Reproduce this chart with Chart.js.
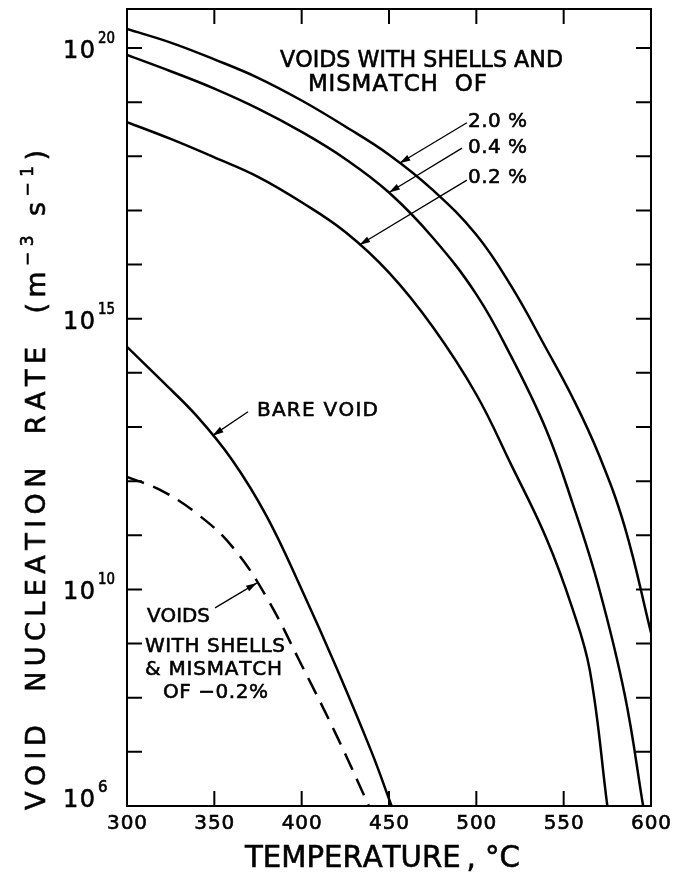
<!DOCTYPE html>
<html>
<head>
<meta charset="utf-8">
<script src="https://cdn.jsdelivr.net/npm/chart.js@4.4.1/dist/chart.umd.min.js"></script>
<style>
  body { margin: 0; background: #fff; }
  canvas { display: block; }
</style>
</head>
<body>
<canvas id="nucleationChart" width="673" height="880"></canvas>
<script>
// values: temperature (deg C) and log10 of the rate
const tempShell20 = [300, 325, 350, 375, 400, 425, 450, 475, 500, 520, 540, 555, 570, 585, 600];
const expShell20 = [20.35, 20.1, 19.79, 19.45, 19.03, 18.55, 18.03, 17.38, 16.55, 15.6, 14.45, 13.55, 12.5, 11.15, 9.2];

const tempShell04 = [300, 325, 350, 375, 400, 425, 450, 475, 500, 520, 540, 555, 570, 585, 595.5];
const expShell04 = [19.87, 19.57, 19.25, 18.88, 18.45, 17.95, 17.33, 16.5, 15.45, 14.3, 12.95, 11.6, 10.05, 8.05, 6.0];

const tempShell02 = [300, 325, 350, 375, 400, 425, 450, 475, 500, 520, 540, 555, 565, 575];
const expShell02 = [18.63, 18.32, 17.98, 17.62, 17.15, 16.6, 15.85, 14.85, 13.6, 12.3, 10.95, 9.65, 8.5, 6.0];

const tempBare = [300, 320, 340, 360, 380, 400, 420, 440, 451.5];
const expBare = [14.48, 13.85, 13.2, 12.4, 11.35, 10.0, 8.55, 7.0, 6.0];

const tempNeg02 = [300, 320, 340, 360, 380, 400, 420, 438.5];
const expNeg02 = [12.08, 11.82, 11.4, 10.8, 9.85, 8.6, 7.3, 6.0];

const xTicks = [300, 350, 400, 450, 500, 550, 600];
const yLabelExps = [6, 10, 15, 20];
const yMinExp = 6;
const yMaxExp = 20.72;

const FONT = '"DejaVu Sans", "Liberation Sans", sans-serif';

function toPoints(temps, exps) {
    return temps.map((t, i) => ({ x: t, y: Math.pow(10, exps[i]) }));
}

// text annotations: anchor in data units (T, log10 rate), width in px
const notes = [
    { text: 'VOIDS WITH SHELLS AND', t: 387.6, e: 19.65, w: 283, size: 23 },
    { text: 'MISMATCH  OF', t: 403.6, e: 19.21, w: 179, size: 23 },
    { text: '2.0 %', t: 495.2, e: 18.54, w: 59, size: 20 },
    { text: '0.4 %', t: 495.2, e: 18.06, w: 59, size: 20 },
    { text: '0.2 %', t: 495.2, e: 17.51, w: 59, size: 20 },
    { text: 'BARE VOID', t: 374.4, e: 13.2, w: 121, size: 20 },
    { text: 'VOIDS', t: 311.4, e: 9.4, w: 63, size: 20 },
    { text: 'WITH SHELLS', t: 310.3, e: 8.84, w: 140, size: 20 },
    { text: '& MISMATCH', t: 310.3, e: 8.42, w: 137, size: 20 },
    { text: 'OF \u22120.2%', t: 320.6, e: 7.99, w: 105, size: 20 }
];

const arrows = [
    { from: [494.6, 18.62], to: [456.0, 17.87] },
    { from: [491.8, 18.15], to: [450.0, 17.33] },
    { from: [494.6, 17.56], to: [433.0, 16.36] },
    { from: [369.3, 13.28], to: [349.0, 12.84] },
    { from: [350.4, 9.66], to: [374.4, 10.12] }
];

// draws a run of text (with optional superscripts) spread or squeezed to a width
function drawFit(ctx, parts, x, y, width, size, align) {
    const chars = [];
    parts.forEach(p => { for (const c of p.t) chars.push({ c: c, sup: p.sup }); });
    const fontOf = sup => (sup ? Math.round(size * 0.62) : size) + 'px ' + FONT;
    let natural = 0;
    chars.forEach(ch => {
        ctx.font = fontOf(ch.sup);
        ch.w = ctx.measureText(ch.c).width;
        natural += ch.w;
    });
    let gap = 0, sx = 1;
    if (width > natural) gap = (width - natural) / Math.max(1, chars.length - 1);
    else sx = width / natural;
    let start = x;
    if (align === 'center') start = x - width / 2;
    if (align === 'right') start = x - width;
    ctx.save();
    ctx.translate(start, y);
    ctx.scale(sx, 1);
    ctx.textAlign = 'left';
    ctx.textBaseline = 'alphabetic';
    ctx.lineWidth = 0.6;
    let cx = 0;
    chars.forEach(ch => {
        ctx.font = fontOf(ch.sup);
        const cy = ch.sup ? -size * 0.45 : 0;
        ctx.fillText(ch.c, cx, cy);
        ctx.strokeText(ch.c, cx, cy);
        cx += ch.w + gap;
    });
    ctx.restore();
}

function drawArrow(ctx, x1, y1, x2, y2) {
    ctx.beginPath();
    ctx.moveTo(x1, y1);
    ctx.lineTo(x2, y2);
    ctx.stroke();
    const ang = Math.atan2(y2 - y1, x2 - x1);
    const len = 11, half = 3.2;
    ctx.beginPath();
    ctx.moveTo(x2, y2);
    ctx.lineTo(x2 - len * Math.cos(ang) + half * Math.sin(ang), y2 - len * Math.sin(ang) - half * Math.cos(ang));
    ctx.lineTo(x2 - len * Math.cos(ang) - half * Math.sin(ang), y2 - len * Math.sin(ang) + half * Math.cos(ang));
    ctx.closePath();
    ctx.fill();
}

const framePlugin = {
    id: 'frame',
    afterDraw(chart) {
        const ctx = chart.ctx;
        const a = chart.chartArea;
        const xs = chart.scales.x;
        const ys = chart.scales.y;
        ctx.save();
        ctx.strokeStyle = '#000';
        ctx.fillStyle = '#000';

        // box and inward ticks
        ctx.lineWidth = 2;
        ctx.strokeRect(a.left, a.top, a.right - a.left, a.bottom - a.top);
        ctx.beginPath();
        xTicks.forEach(v => {
            const px = xs.getPixelForValue(v);
            ctx.moveTo(px, a.bottom); ctx.lineTo(px, a.bottom - 15);
            ctx.moveTo(px, a.top); ctx.lineTo(px, a.top + 15);
        });
        for (let e = yMinExp + 1; e <= 20; e++) {
            const py = ys.getPixelForValue(Math.pow(10, e));
            ctx.moveTo(a.left, py); ctx.lineTo(a.left + 15, py);
            ctx.moveTo(a.right, py); ctx.lineTo(a.right - 15, py);
        }
        ctx.stroke();

        // x tick labels
        xTicks.forEach(v => {
            drawFit(ctx, [{ t: String(v), sup: false }], xs.getPixelForValue(v), 829, 40, 20, 'center');
        });

        // y tick labels 10^n
        yLabelExps.forEach(e => {
            const py = Math.min(ys.getPixelForValue(Math.pow(10, e)) + 10, a.bottom + 1);
            drawFit(ctx, [{ t: '10', sup: false }], 95, py, 32, 24, 'right');
            drawFit(ctx, [{ t: String(e), sup: false }], 98, py - 15, e < 10 ? 10 : 17, 15, 'left');
        });

        // axis titles
        drawFit(ctx, [{ t: 'TEMPERATURE\u2009, \u00B0C', sup: false }], 245, 867, 275, 30, 'left');
        ctx.save();
        ctx.translate(45, 480);
        ctx.rotate(-Math.PI / 2);
        drawFit(ctx, [
            { t: 'VOID  NUCLEATION  RATE  (m', sup: false },
            { t: '\u22123', sup: true },
            { t: ' s', sup: false },
            { t: '\u22121', sup: true },
            { t: ')', sup: false }
        ], 0, 0, 660, 27, 'center');
        ctx.restore();

        // notes and arrows
        notes.forEach(n => {
            drawFit(ctx, [{ t: n.text, sup: false }], xs.getPixelForValue(n.t),
                ys.getPixelForValue(Math.pow(10, n.e)), n.w, n.size, 'left');
        });
        ctx.lineWidth = 1.3;
        arrows.forEach(ar => {
            drawArrow(ctx,
                xs.getPixelForValue(ar.from[0]), ys.getPixelForValue(Math.pow(10, ar.from[1])),
                xs.getPixelForValue(ar.to[0]), ys.getPixelForValue(Math.pow(10, ar.to[1])));
        });
        ctx.restore();
    }
};

function curve(temps, exps, dash) {
    return {
        data: toPoints(temps, exps),
        borderColor: '#000',
        borderWidth: 2.5,
        borderDash: dash || [],
        pointRadius: 0,
        fill: false,
        tension: 0.4,
        clip: 0
    };
}

function drawNucleationChart() {
    const ctx = document.getElementById('nucleationChart').getContext('2d');
    return new Chart(ctx, {
        type: 'line',
        data: {
            datasets: [
                curve(tempShell20, expShell20),
                curve(tempShell04, expShell04),
                curve(tempShell02, expShell02),
                curve(tempBare, expBare),
                curve(tempNeg02, expNeg02, [18, 10])
            ]
        },
        options: {
            responsive: false,
            animation: false,
            layout: { padding: { left: 0, right: 22, top: 9, bottom: 0 } },
            plugins: { legend: { display: false }, tooltip: { enabled: false } },
            scales: {
                x: {
                    type: 'linear',
                    min: 300,
                    max: 600,
                    ticks: { display: false, stepSize: 50 },
                    grid: { display: false },
                    border: { display: false },
                    afterFit: s => { s.height = 74; }
                },
                y: {
                    type: 'logarithmic',
                    min: Math.pow(10, yMinExp),
                    max: Math.pow(10, yMaxExp),
                    ticks: { display: false },
                    grid: { display: false },
                    border: { display: false },
                    afterFit: s => { s.width = 127; }
                }
            }
        },
        plugins: [framePlugin]
    });
}

drawNucleationChart();
</script>
</body>
</html>
